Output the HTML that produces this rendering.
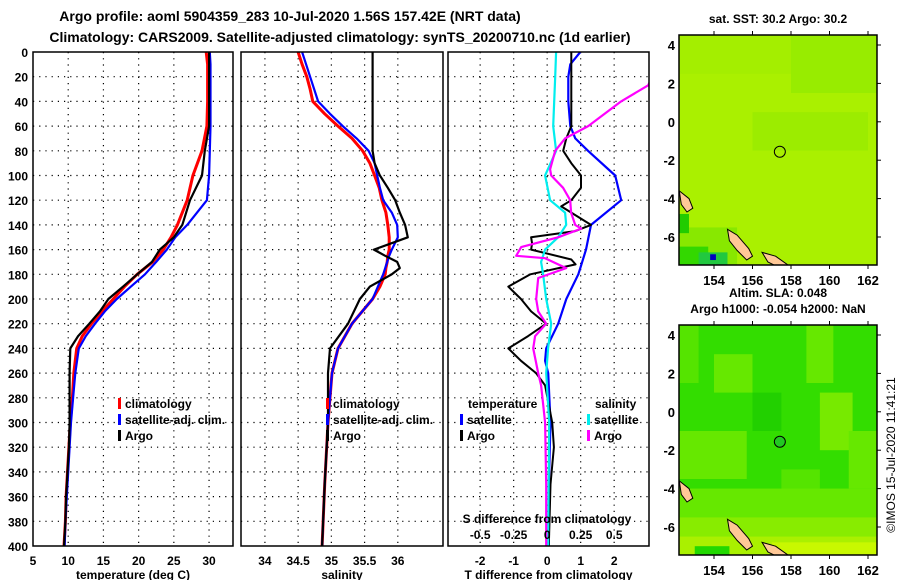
<!DOCTYPE html>
<html><head><meta charset="utf-8"><style>
html,body{margin:0;padding:0;background:#fff;}
svg{display:block;font-family:"Liberation Sans",sans-serif;font-weight:bold;}
</style></head><body>
<svg id="fig" width="900" height="580" viewBox="0 0 900 580" xmlns="http://www.w3.org/2000/svg">
<text x="290" y="21" font-size="14" text-anchor="middle">Argo profile: aoml 5904359_283 10-Jul-2020 1.56S 157.42E (NRT data)</text>
<text x="340" y="42" font-size="14" text-anchor="middle">Climatology: CARS2009. Satellite-adjusted climatology: synTS_20200710.nc (1d earlier)</text>
<g id="plots"></g>
</svg>
<script>
// ---------- data ----------
const tDepths = [0,10,20,40,60,80,100,120,140,150,160,170,180,190,200,210,220,230,240,260,280,300,320,340,360,380,400];
const tClim   = [29.6,29.8,29.8,29.8,29.7,29.0,27.7,26.9,25.5,24.6,23.5,22.0,19.8,18.0,16.4,14.8,13.3,12.0,11.2,10.8,10.6,10.3,10.1,9.9,9.7,9.6,9.4];
const tSat    = [30.1,30.2,30.2,30.2,30.2,30.1,30.0,29.7,26.9,25.2,24.0,22.5,20.9,18.9,16.9,15.2,13.8,12.5,11.5,11.0,10.7,10.4,10.2,10.0,9.8,9.6,9.5];
const tArgo   = [30.0,30.0,30.0,30.0,30.0,29.4,29.0,27.3,26.2,25.0,23.0,21.9,19.8,17.8,15.7,14.5,13.0,11.4,10.3,10.2,10.2,10.2,10.1,9.9,9.7,9.6,9.4];

const sDepths = [0,10,20,30,40,50,60,70,80,90,100,110,120,130,140,150,160,165,170,175,180,190,200,220,240,260,300,350,400];
const sClim   = [34.50,34.56,34.63,34.68,34.72,34.90,35.10,35.31,35.47,35.58,35.65,35.72,35.76,35.82,35.85,35.87,35.87,35.85,35.84,35.82,35.81,35.73,35.62,35.31,35.10,35.01,34.95,34.90,34.86];
const sSat    = [34.56,34.62,34.68,34.74,34.80,34.98,35.17,35.38,35.56,35.65,35.69,35.73,35.78,35.91,35.99,36.00,35.91,35.87,35.84,35.81,35.78,35.70,35.62,35.31,35.10,35.01,34.95,34.90,34.86];
const sArgo   = [35.62,35.62,35.62,35.62,35.62,35.62,35.62,35.62,35.62,35.65,35.73,35.85,35.96,36.03,36.11,36.15,35.64,35.81,35.99,36.03,35.91,35.58,35.43,35.25,34.98,34.95,34.95,34.90,34.86];

const dtSatDepths  = [0,10,20,40,60,70,80,100,120,140,160,175,180,200,220,240,250,260,300,350,400];
const dtSat        = [0.99,0.69,0.63,0.63,0.69,0.84,1.22,2.03,2.21,1.31,1.16,0.99,0.93,0.57,0.33,-0.03,-0.06,0.03,0.10,0.05,0.05];
const dtArgoDepths = [0,20,40,60,70,80,90,100,110,120,125,130,140,145,150,155,160,168,172,180,190,200,210,220,230,240,250,260,270,300,320,350,400];
const dtArgo       = [0.72,0.72,0.72,0.72,0.57,0.48,0.72,1.01,1.01,0.72,0.42,0.72,1.31,0.84,-0.48,-0.45,-0.48,0.72,0.85,-0.50,-1.16,-0.78,-0.48,-0.03,-0.57,-1.16,-0.78,-0.33,-0.06,0.15,0.20,0.10,0.05];
const dsSatDepths  = [0,20,60,80,100,120,130,140,150,160,170,180,200,220,240,260,300,400];
const dsSat        = [0.067,0.06,0.045,0.067,-0.015,0.022,0.134,0.142,0.082,-0.015,-0.045,-0.03,-0.007,0.03,0.007,-0.007,0.015,0.007];
const dsArgoDepths = [5,27,40,60,70,80,95,100,110,120,130,140,143,150,158,165,167,175,183,200,210,220,230,240,260,270,300,350,400];
const dsArgo       = [0.843,0.754,0.552,0.306,0.134,0.06,0.022,0.03,0.119,0.172,0.179,0.209,0.254,0.082,-0.194,-0.231,-0.015,0.142,-0.067,-0.082,-0.067,-0.007,-0.09,-0.104,-0.067,-0.045,-0.015,-0.007,-0.007];

const depthTicks = [0,20,40,60,80,100,120,140,160,180,200,220,240,260,280,300,320,340,360,380,400];
const tTicks  = [5,10,15,20,25,30];
const sTicks  = [34,34.5,35,35.5,36];
const sTickLabels = ["34","34.5","35","35.5","36"];
const dtTicks = [-2,-1,0,1,2];
const dsTicks = [-0.5,-0.25,0,0.25,0.5];
const dsTickLabels = ["-0.5","-0.25","0","0.25","0.5"];
const lonTicks = [154,156,158,160,162];
const latTicks = [4,2,0,-2,-4,-6];

// ---------- helpers ----------
const NS = "http://www.w3.org/2000/svg";
const root = document.getElementById('plots');
function mk(tag, attrs, parent){ const e=document.createElementNS(NS,tag); for(const k in attrs) e.setAttribute(k,attrs[k]); (parent||root).appendChild(e); return e; }
const Y0=52, Y1=546;
const yD = d => Y0 + d*(Y1-Y0)/400;

function panel(name, x0, x1, vmin, vmax){
  const g = mk('g',{});
  
  
  const sx = v => x0 + (v-vmin)*(x1-x0)/(vmax-vmin);
  const cid = 'clip-'+name;
  const cp = mk('clipPath',{id:cid}, g); mk('rect',{x:x0,y:Y0,width:x1-x0,height:Y1-Y0}, cp);
  return {g, sx, x0, x1, cid};
}
function grid(p, xvals){
  const gg = mk('g',{stroke:'#000','stroke-width':1.2,'stroke-dasharray':'1.2 5'}, p.g);
  
  
  depthTicks.forEach(d=>{ if(d>0&&d<400) mk('line',{x1:p.x0,x2:p.x1,y1:yD(d),y2:yD(d)},gg); });
  xvals.forEach(v=>{ const x=p.sx(v); if(x>p.x0+2&&x<p.x1-2) mk('line',{x1:x,x2:x,y1:Y0,y2:Y1},gg); });
}
function series(p, depths, vals, color, w, name, scale){
  const pts = depths.map((d,i)=> p.sx(vals[i]*(scale||1)).toFixed(1)+','+yD(d).toFixed(1)).join(' ');
  const l = mk('polyline',{points:pts, fill:'none', stroke:color, 'stroke-width':w, 'stroke-linejoin':'round', 'clip-path':'url(#'+p.cid+')'}, p.g);
  
  
}
function frame(p){
  const r = mk('rect',{x:p.x0,y:Y0,width:p.x1-p.x0,height:Y1-Y0,fill:'none',stroke:'#000','stroke-width':1.5}, p.g);
  
  
}
function xlabels(p, vals, labels, title){
  vals.forEach((v,i)=>{ const t=mk('text',{x:p.sx(v),y:565,'font-size':12,'text-anchor':'middle'},p.g); t.textContent=labels?labels[i]:String(v);
    
     });
  const t = mk('text',{x:(p.x0+p.x1)/2,y:579,'font-size':12,'text-anchor':'middle'},p.g); t.textContent=title;
  
  
}
function legendRow(p, x, y, color, label, name){
  const m = mk('rect',{x:x,y:y-10,width:3,height:11,fill:color},p.g);
  
  
  const t = mk('text',{x:x+7,y:y,'font-size':12},p.g); t.textContent=label;
  
  
}

// ---------- panel 1: temperature ----------
const p1 = panel('temperature-panel', 33, 233, 5, 33.4);
grid(p1, tTicks);
series(p1, tDepths, tClim, '#f00', 3, 'temperature-climatology-line');
series(p1, tDepths, tSat, '#00f', 2.2, 'temperature-satellite-line');
series(p1, tDepths, tArgo, '#000', 2.2, 'temperature-argo-line');
frame(p1);
depthTicks.forEach(d=>{ const t=mk('text',{x:28,y:yD(d)+5,'font-size':12,'text-anchor':'end'},p1.g); t.textContent=d;
  
   });
xlabels(p1, tTicks, null, 'temperature (deg C)');
legendRow(p1,118,408,'#f00','climatology','legend-climatology');
legendRow(p1,118,424,'#00f','satellite-adj. clim.','legend-satellite-adj');
legendRow(p1,118,440,'#000','Argo','legend-argo');

// ---------- panel 2: salinity ----------
const p2 = panel('salinity-panel', 241, 443, 33.64, 36.68);
grid(p2, sTicks);
series(p2, sDepths, sClim, '#f00', 3, 'salinity-climatology-line');
series(p2, sDepths, sSat, '#00f', 2.2, 'salinity-satellite-line');
series(p2, sDepths, sArgo, '#000', 2.2, 'salinity-argo-line');
frame(p2);
xlabels(p2, sTicks, sTickLabels, 'salinity');
legendRow(p2,326,408,'#f00','climatology','legend-climatology-s');
legendRow(p2,326,424,'#00f','satellite-adj. clim.','legend-satellite-adj-s');
legendRow(p2,326,440,'#000','Argo','legend-argo-s');

// ---------- panel 3: differences ----------
const p3 = panel('difference-panel', 448, 649, -2.96, 3.04);
grid(p3, dtTicks);
series(p3, dtSatDepths, dtSat, '#00f', 2.2, 'tdiff-satellite-line');
series(p3, dtArgoDepths, dtArgo, '#000', 2, 'tdiff-argo-line');
series(p3, dsSatDepths, dsSat, '#0ee', 2.2, 'sdiff-satellite-line', 4);
series(p3, dsArgoDepths, dsArgo, '#f0f', 2.2, 'sdiff-argo-line', 4);
frame(p3);
xlabels(p3, dtTicks, null, 'T difference from climatology');
{ const t=mk('text',{x:547,y:523,'font-size':12,'text-anchor':'middle'},p3.g); t.textContent='S difference from climatology';
  
  
  dsTicks.forEach((v,i)=>{ const u=mk('text',{x:p3.sx(v*4),y:539,'font-size':12,'text-anchor':'middle'},p3.g); u.textContent=dsTickLabels[i];
    
     }); }
{ const t=mk('text',{x:468,y:408,'font-size':12},p3.g); t.textContent='temperature';
  
  
  const u=mk('text',{x:595,y:408,'font-size':12},p3.g); u.textContent='salinity';
  
   }
legendRow(p3,460,424,'#00f','satellite','legend-t-satellite');
legendRow(p3,460,440,'#000','Argo','legend-t-argo');
legendRow(p3,587,424,'#0ee','satellite','legend-s-satellite');
legendRow(p3,587,440,'#f0f','Argo','legend-s-argo');

// ---------- maps ----------
function map(name, y0, base, patches, title, circleFill){
  const x0=679, x1=877, y1=y0+230;
  const g = mk('g',{});
  
  
  const lonX = lon => 714 + (lon-154)*19.25;
  const latY = lat => (y0+10) + (4-lat)*19.2;
  const cid='clip-'+name; const cp=mk('clipPath',{id:cid},g); mk('rect',{x:x0,y:y0,width:x1-x0,height:230},cp);
  const inner = mk('g',{'clip-path':'url(#'+cid+')'},g);
  mk('rect',{x:x0,y:y0,width:x1-x0,height:230,fill:base},inner);
  patches.forEach(p=>mk('rect',{x:lonX(p[0]),y:latY(p[1]),width:p[2]*19.25,height:p[3]*19.2,fill:p[4]},inner));
  // land
  const land = (pts)=>{ const l=mk('polygon',{points:pts.map(q=>lonX(q[0]).toFixed(1)+','+latY(q[1]).toFixed(1)).join(' '),fill:'#ffc896',stroke:'#000','stroke-width':1},inner);
      };
  land([[152.2,-3.6],[152.7,-4.0],[152.9,-4.5],[152.6,-4.7],[152.3,-4.3]]);
  land([[154.7,-5.6],[155.2,-5.9],[155.8,-6.6],[156.0,-7.0],[155.7,-7.2],[155.2,-6.7],[154.8,-6.2]]);
  land([[156.5,-6.8],[157.2,-7.0],[157.9,-7.5],[157.4,-7.6],[156.8,-7.3]]);
  const c = mk('circle',{cx:lonX(157.42),cy:latY(-1.56),r:5.5,fill:circleFill,stroke:'#000','stroke-width':1},inner);
  
  
  mk('rect',{x:x0,y:y0,width:x1-x0,height:230,fill:'none',stroke:'#000','stroke-width':1.5},g);
  lonTicks.forEach(l=>{ mk('line',{x1:lonX(l),x2:lonX(l),y1:y0,y2:y0-4,stroke:'#000'},g); mk('line',{x1:lonX(l),x2:lonX(l),y1:y1,y2:y1+4,stroke:'#000'},g);
    const t=mk('text',{x:lonX(l),y:y1+20,'font-size':13,'text-anchor':'middle'},g); t.textContent=l;
    
     });
  latTicks.forEach(l=>{ mk('line',{x1:x1,x2:x1+4,y1:latY(l),y2:latY(l),stroke:'#000'},g);
    const t=mk('text',{x:x0-4,y:latY(l)+5,'font-size':13,'text-anchor':'end'},g); t.textContent=l;
    
     });
  const t=mk('text',{x:778,y:y0-12,'font-size':12,'text-anchor':'middle'},g); t.textContent=title;
  
  
}
map('sst-map', 35, '#aaf000', [
  [152.2,4.5,11,2,'#a4ee00'],[158,4.5,4.5,3,'#98ec00'],[156,0.5,6,2,'#9cec00'],[152.2,-5.5,3,2.5,'#88e800'],
  [152.2,-6.5,1.5,1,'#33d800'],[153.2,-6.8,1.5,0.7,'#22c840'],[153.8,-6.9,0.3,0.3,'#0000c0'],[152.2,-4.8,0.5,1,'#22cc00']
], 'sat. SST: 30.2 Argo: 30.2', 'none');
map('sla-map', 325, '#33dd00', [
  [152.2,4.5,1,3,'#55e400'],[154,3,2,2,'#66e800'],[158.8,4.5,1.4,3,'#66e800'],[159.5,1,1.7,3,'#77ea00'],[161,-1,1.5,3,'#66e800'],
  [152.2,-1,3.5,2.5,'#66e800'],[157.5,-3,2,2,'#55e400'],[152.2,-4,11,1.8,'#66e800'],[152.2,-5.5,11,1.5,'#88ec00'],
  [152.2,-6.5,11,1.2,'#aaf000'],[157,-6.8,5.5,0.8,'#c8f800'],[153,-7,1.8,0.6,'#22d800'],[156,1,1.5,2,'#22d000']
], 'Argo h1000: -0.054 h2000: NaN', '#22c822');
{ const t=mk('text',{x:778,y:297,'font-size':12,'text-anchor':'middle'}); t.textContent='Altim. SLA: 0.048';
  
  
  const u=mk('text',{x:0,y:0,'font-size':12,'font-weight':'normal','text-anchor':'middle',transform:'translate(895,455) rotate(-90)'}); u.textContent='©IMOS 15-Jul-2020 11:41:21';
  
   }
</script>
</body></html>
